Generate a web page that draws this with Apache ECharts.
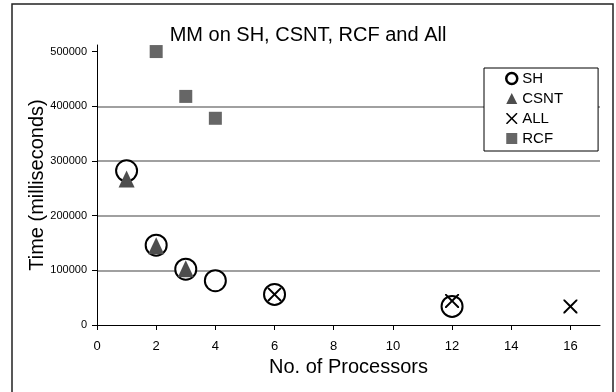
<!DOCTYPE html>
<html>
<head>
<meta charset="utf-8">
<script src="https://cdn.jsdelivr.net/npm/echarts@6/dist/echarts.min.js"></script>
<style>html,body{margin:0;padding:0;background:#fff;}#c{width:616px;height:392px;}</style>
</head>
<body>
<div id="c"></div>
<script>
// ---- data ----
var titleText = 'MM on SH, CSNT, RCF and All';
var xName = 'No. of Processors';
var yName = 'Time (milliseconds)';
var xTicks = [0, 2, 4, 6, 8, 10, 12, 14, 16];
var yTicks = [0, 100000, 200000, 300000, 400000, 500000];
var seriesNames = ['SH', 'CSNT', 'ALL', 'RCF'];
var procSH = [1, 2, 3, 4, 6, 12];
var timeSH = [282000, 146000, 102000, 81000, 56000, 34000];
var procCSNT = [1, 2, 3];
var timeCSNT = [267000, 145000, 103000];
var procALL = [6, 12, 16];
var timeALL = [56000, 44000, 34000];
var procRCF = [2, 3, 4];
var timeRCF = [500000, 418000, 378000];

function pairs(xs, ys) { return xs.map(function (x, i) { return [x, ys[i]]; }); }

var xPath = 'path://M0,0 L2,0 L10,8 L18,0 L20,0 L20,2 L12,10 L20,18 L20,20 L18,20 L10,12 L2,20 L0,20 L0,18 L8,10 L0,2 Z';
var FONT = '"Liberation Sans", Arial, sans-serif';

var chart = echarts.init(document.getElementById('c'), null, { renderer: 'canvas' });
chart.setOption({
  animation: false,
  backgroundColor: '#fff',
  textStyle: { fontFamily: FONT, color: '#000' },
  graphic: [{
    type: 'rect', silent: true, z: 0,
    shape: { x: 12, y: 4, width: 601, height: 400 },
    style: { fill: 'none', stroke: '#222', lineWidth: 1.5 }
  }],
  title: {
    text: titleText, left: 'center', top: 20,
    textStyle: { fontFamily: FONT, fontSize: 20, fontWeight: 'normal', color: '#000' }
  },
  legend: {
    orient: 'vertical', left: 484, top: 68,
    itemWidth: 11, itemHeight: 11, itemGap: 5,
    padding: [3, 35, 5, 21],
    backgroundColor: '#fff', borderColor: '#000', borderWidth: 1,
    textStyle: { fontFamily: FONT, fontSize: 15, color: '#000' },
    data: [
      { name: seriesNames[0], itemStyle: { borderWidth: 2.5 } },
      { name: seriesNames[1] },
      { name: seriesNames[2] },
      { name: seriesNames[3] }
    ]
  },
  grid: { left: 97, right: 16, top: 45, bottom: 67, containLabel: false },
  xAxis: {
    type: 'value', min: 0, max: 17,
    name: xName, nameLocation: 'middle', nameGap: 32, nameMoveOverlap: false,
    nameTextStyle: { fontFamily: FONT, fontSize: 20, color: '#000' },
    axisLine: { show: true, onZero: false, lineStyle: { color: '#000', width: 1 } },
    axisTick: { show: true, length: 5, customValues: xTicks, lineStyle: { color: '#000' } },
    axisLabel: { customValues: xTicks, margin: 15, fontSize: 13, color: '#000', fontFamily: FONT },
    splitLine: { show: false }
  },
  yAxis: {
    type: 'value', min: 0, max: 512000, interval: 100000,
    name: yName, nameLocation: 'middle', nameGap: 50, nameMoveOverlap: false,
    nameTextStyle: { fontFamily: FONT, fontSize: 20, color: '#000' },
    axisLine: { show: true, lineStyle: { color: '#000', width: 1 } },
    axisTick: { show: true, length: 5, customValues: yTicks, lineStyle: { color: '#000' } },
    axisLabel: {
      customValues: yTicks, margin: 10, fontSize: 11, color: '#000', fontFamily: FONT,
      formatter: function (v) { return String(v); }
    },
    splitLine: { show: true, showMinLine: false, showMaxLine: false, lineStyle: { color: '#808080', width: 1.5 } }
  },
  series: [
    {
      name: seriesNames[0], type: 'scatter', data: pairs(procSH, timeSH),
      symbol: 'circle', symbolSize: 21, z: 2,
      itemStyle: { color: '#fff', borderColor: '#000', borderWidth: 2, opacity: 1 }
    },
    {
      name: seriesNames[1], type: 'scatter', data: pairs(procCSNT, timeCSNT),
      symbol: 'triangle', symbolSize: [16, 17], z: 3,
      itemStyle: { color: '#4d4d4d', opacity: 1 }
    },
    {
      name: seriesNames[2], type: 'scatter', data: pairs(procALL, timeALL),
      symbol: xPath, symbolSize: 14, z: 4,
      itemStyle: { color: '#000', opacity: 1 }
    },
    {
      name: seriesNames[3], type: 'scatter', data: pairs(procRCF, timeRCF),
      symbol: 'rect', symbolSize: 13, z: 5,
      itemStyle: { color: '#666', opacity: 1 }
    }
  ]
});
</script>
</body>
</html>
